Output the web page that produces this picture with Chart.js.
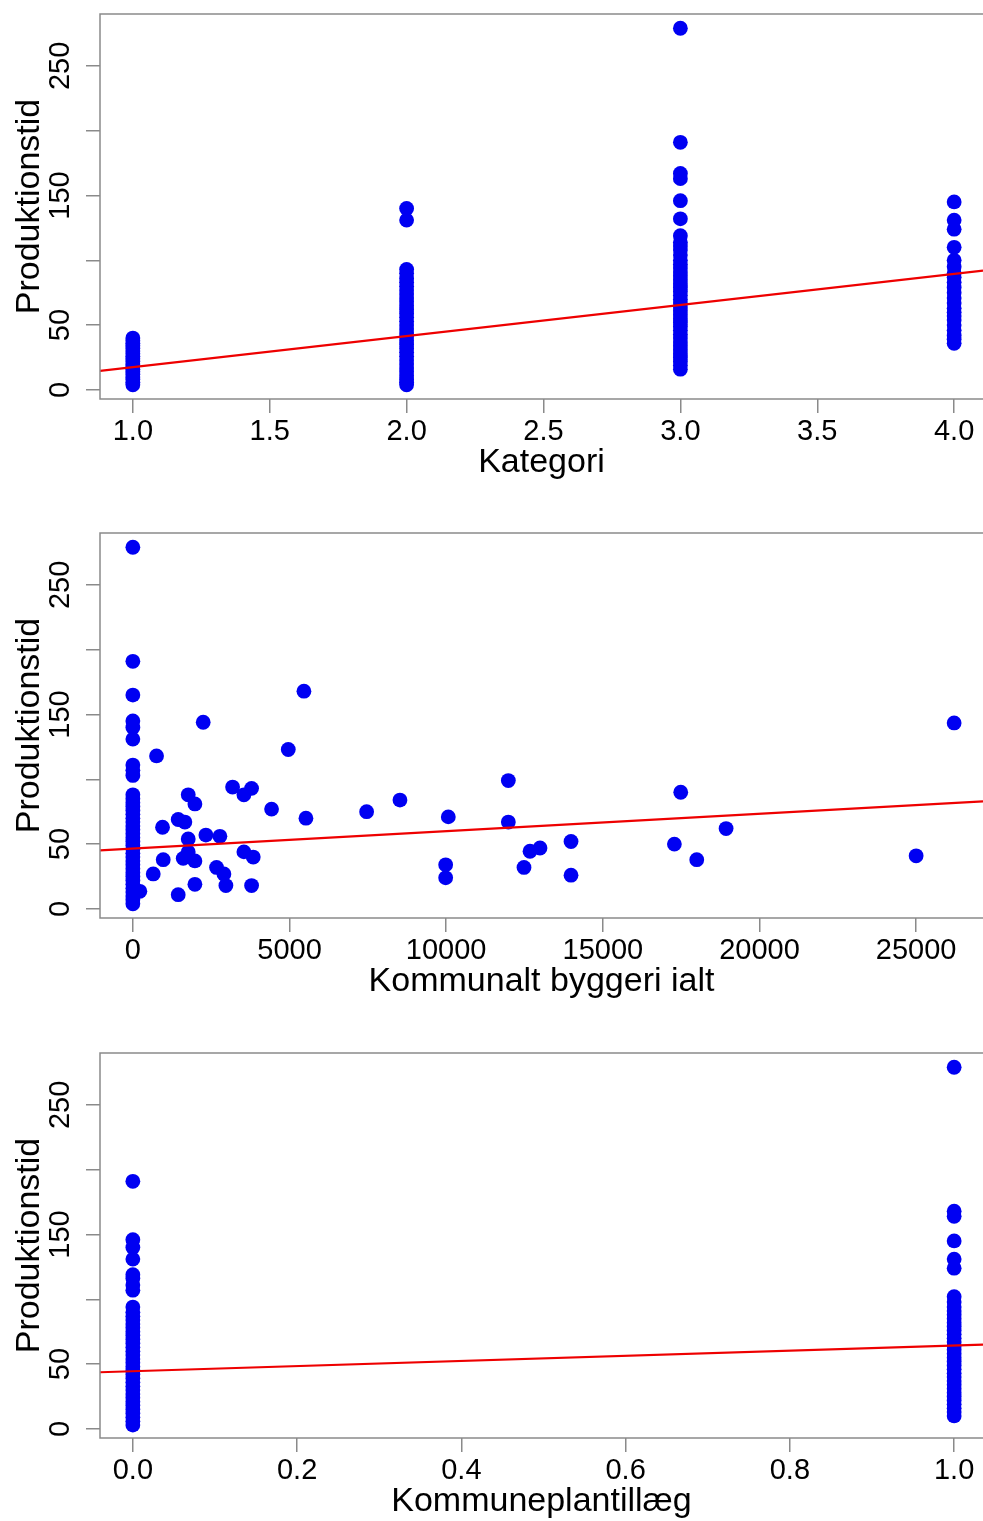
<!DOCTYPE html>
<html><head><meta charset="utf-8">
<script src="https://cdn.jsdelivr.net/npm/chart.js@4/dist/chart.umd.min.js"></script>
<style>
html,body{margin:0;padding:0;background:#fff;overflow:hidden;width:983px;height:1521px;}
body{position:relative;}
.wrap{position:absolute;left:0;width:983px;height:520px;overflow:hidden;}
canvas{display:block;}
</style></head><body>
<div class="wrap" style="top:0"><canvas id="c1" width="983" height="520"></canvas></div>
<div class="wrap" style="top:519px"><canvas id="c2" width="983" height="520"></canvas></div>
<div class="wrap" style="top:1039px;height:482px"><canvas id="c3" width="983" height="520"></canvas></div>
<script>
// ---- Data ----
// Panel 1: Produktionstid by Kategori
const prodKat1 = [4,6,8,10,12,14,16,18,20,22,24,26,28,30,32,34,36,38,40];
const prodKat2 = [4,6,8,11,14,17,20,23,26,29,32,35,38,41,44,47,50,53,56,59,62,65,68,71,74,77,80,83,86,90,93,131,140];
const prodKat3 = [16,19,22,25,28,31,34,37,40,43,46,49,52,55,58,61,64,67,70,73,76,79,82,85,88,91,94,97,100,104,108,111,114,119,132,146,163,167,191,279];
const prodKat4 = [36,39,42,46,50,54,57,60,63,67,71,75,79,83,87,90,95,100,110,124,131,145];
const kategoriLevels = [1,2,3,4];

// Panel 2: Produktionstid vs Kommunalt byggeri ialt
const prodKomm0 = [4,7,10,13,16,19,22,25,28,31,34,37,40,43,46,49,52,55,58,61,64,67,70,73,76,79,82,85,88,103,107,111,131,140,145,165,191,279];
const kommX = [223,650,756,947,969,1447,1447,1607,1660,1767,1767,1767,1980,1980,1980,2245,2331,2671,2778,2906,2969,3183,3544,3544,3789,3789,3842,4427,4960,5460,5524,7461,8525,9984,9984,10068,11984,11984,12484,12676,12995,13985,13985,17284,17487,17998,18934,25000,26213];
const kommY = [13.6,27,118,63,38,11,69,39,67,88,54,44,81,37,19,144,57,32,56,27,18,94,88,44,93,18,40,77,123,168,70,75,84,34,24,71,99,67,32,44.5,47,52,26,50,90,38,62,41,143.5];

// Panel 3: Produktionstid by Kommuneplantillæg (0/1)
const prodPlan0 = [3,6,9,12,15,18,21,24,27,30,33,36,39,42,45,48,51,54,57,60,63,66,69,72,75,78,81,84,87,90,94,107,111,116,119,131,140,146,191];
const prodPlan1 = [10,13,16,19,22,25,28,31,34,37,40,43,46,49,52,55,58,61,64,67,70,73,76,79,82,85,88,91,94,98,102,124,131,145,164,168,279];

// Regression lines (intercept, slope)
const fitIntercept = [-6.5, 46.6, 44.5];
const fitSlope = [24, 0.00134, 19.8];

// Axes (full plot ranges; the right edge of the original plot is cut off by the image)
const yRange = [-7, 290];
const yTicks = [0,50,100,150,200,250];
const yTickLabels = ['0','50','','150','','250'];
const xRange1 = [0.88, 4.12];
const xTicks1 = [1,1.5,2,2.5,3,3.5,4];
const xRange2 = [-1049, 27262];
const xTicks2 = [0,5000,10000,15000,20000,25000];
const xRange3 = [-0.04, 1.04];
const xTicks3 = [0,0.2,0.4,0.6,0.8,1];
const yTitle = 'Produktionstid';
const xTitles = ['Kategori','Kommunalt byggeri ialt','Kommuneplantillæg'];

// ---- Rendering ----
const FONT = '"Liberation Sans", Arial, Helvetica, sans-serif';
const AXIS_GRAY = '#8a8a8a';
const DOT = '#0000f2';
const RED = '#ee0000';
const PLOT_LEFT = 100, PLOT_FULL_RIGHT = 987, CANVAS_W = 983;

const boxPlugin = {
  id: 'rbox',
  afterDatasetsDraw(chart) {
    const {ctx, chartArea: a} = chart;
    ctx.save();
    ctx.strokeStyle = AXIS_GRAY;
    ctx.lineWidth = 1.5;
    ctx.beginPath();
    ctx.moveTo(a.right + 2, a.top);
    ctx.lineTo(a.left, a.top);
    ctx.lineTo(a.left, a.bottom);
    ctx.lineTo(a.right + 2, a.bottom);
    ctx.stroke();
    ctx.restore();
  }
};

function makeChart(id, points, xRange, xTicks, fmt, title, idx) {
  // visible part of the full range (the plot box extends past the image edge)
  const frac = (CANVAS_W - PLOT_LEFT) / (PLOT_FULL_RIGHT - PLOT_LEFT);
  const xMin = xRange[0], xMax = xRange[0] + (xRange[1] - xRange[0]) * frac;
  const a = fitIntercept[idx], b = fitSlope[idx];
  const line = [{x: xMin, y: a + b * xMin}, {x: xMax, y: a + b * xMax}];
  return new Chart(document.getElementById(id), {
    type: 'scatter',
    data: {
      datasets: [
        {data: line, showLine: true, pointRadius: 0, borderColor: RED, borderWidth: 2.2, fill: false},
        {data: points, pointRadius: 7.4, pointHoverRadius: 7.4, backgroundColor: DOT, borderWidth: 0, pointBorderWidth: 0}
      ]
    },
    options: {
      responsive: false, animation: false, devicePixelRatio: 1, events: [],
      layout: {autoPadding: false, padding: {left: 0, right: 0, top: 14, bottom: 0}},
      plugins: {legend: {display: false}, tooltip: {enabled: false}},
      scales: {
        x: {
          type: 'linear', min: xMin, max: xMax,
          afterBuildTicks: s => { s.ticks = xTicks.map(v => ({value: v})); },
          afterFit: s => { s.height = 121; s.paddingLeft = 0; s.paddingRight = 0; },
          ticks: {autoSkip: false, maxRotation: 0, minRotation: 0, padding: 2, color: '#000',
                  font: {family: FONT, size: 29}, callback: v => fmt(v)},
          grid: {drawOnChartArea: false, drawTicks: true, tickLength: 14, color: AXIS_GRAY, lineWidth: 1.5},
          border: {display: false},
          title: {display: true, text: title, color: '#000', font: {family: FONT, size: 34},
                  padding: {top: 0, bottom: 37}}
        },
        y: {
          type: 'linear', min: yRange[0], max: yRange[1],
          afterBuildTicks: s => { s.ticks = yTicks.map(v => ({value: v})); },
          afterFit: s => { s.width = PLOT_LEFT; s.paddingTop = 0; s.paddingBottom = 0; },
          ticks: {autoSkip: false, minRotation: 90, maxRotation: 90, crossAlign: 'center', padding: 1,
                  color: '#000', font: {family: FONT, size: 29},
                  callback: (v, i) => yTickLabels[i]},
          grid: {drawOnChartArea: false, drawTicks: true, tickLength: 14, color: AXIS_GRAY, lineWidth: 1.5},
          border: {display: false},
          title: {display: true, text: yTitle, color: '#000', font: {family: FONT, size: 34},
                  padding: {top: 9.5, bottom: 0}}
        }
      }
    },
    plugins: [boxPlugin]
  });
}

const kats = [prodKat1, prodKat2, prodKat3, prodKat4];
const pts1 = [];
kats.forEach((arr, k) => arr.forEach(v => pts1.push({x: kategoriLevels[k], y: v})));

const pts2 = prodKomm0.map(v => ({x: 0, y: v}));
kommX.forEach((xv, i) => pts2.push({x: xv, y: kommY[i]}));

const pts3 = prodPlan0.map(v => ({x: 0, y: v})).concat(prodPlan1.map(v => ({x: 1, y: v})));

makeChart('c1', pts1, xRange1, xTicks1, v => v.toFixed(1), xTitles[0], 0);
makeChart('c2', pts2, xRange2, xTicks2, v => String(v), xTitles[1], 1);
makeChart('c3', pts3, xRange3, xTicks3, v => v.toFixed(1), xTitles[2], 2);
</script>
</body></html>
